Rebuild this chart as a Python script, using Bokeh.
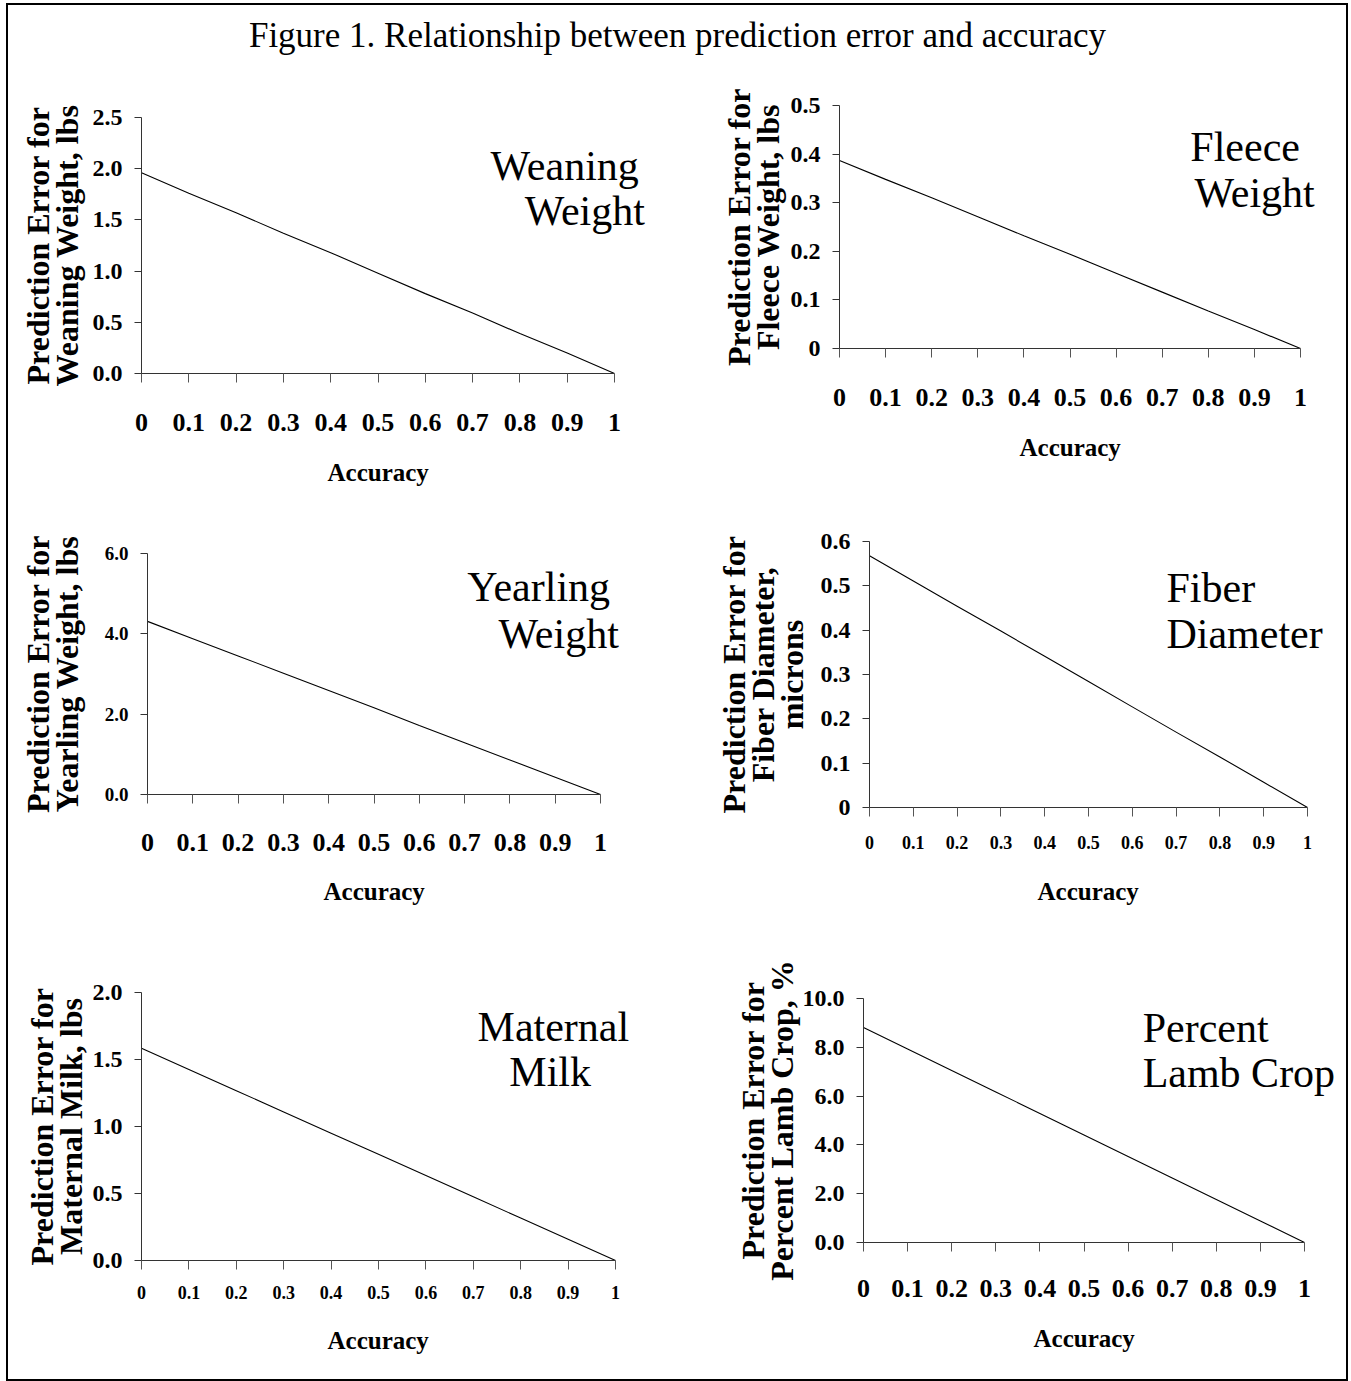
from bokeh.plotting import figure
from bokeh.models import Range1d, FixedTicker, CustomJSTickFormatter, Label, Title
from bokeh.layouts import column, row
from bokeh.embed import file_html
from bokeh.resources import INLINE

# ---------------- data ----------------
accuracy = [0.0, 0.1, 0.2, 0.3, 0.4, 0.5, 0.6, 0.7, 0.8, 0.9, 1.0]
weaning_weight = [1.96, 1.76, 1.57, 1.37, 1.18, 0.98, 0.78, 0.59, 0.39, 0.20, 0.0]
fleece_weight = [0.387, 0.348, 0.310, 0.271, 0.232, 0.194, 0.155, 0.116, 0.077, 0.039, 0.0]
yearling_weight = [4.31, 3.88, 3.45, 3.02, 2.59, 2.16, 1.72, 1.29, 0.86, 0.43, 0.0]
fiber_diameter = [0.568, 0.511, 0.454, 0.398, 0.341, 0.284, 0.227, 0.170, 0.114, 0.057, 0.0]
maternal_milk = [1.584, 1.426, 1.267, 1.109, 0.950, 0.792, 0.634, 0.475, 0.317, 0.158, 0.0]
lamb_crop = [8.81, 7.93, 7.05, 6.17, 5.29, 4.41, 3.52, 2.64, 1.76, 0.88, 0.0]

x_ticks = [0.0, 0.1, 0.2, 0.3, 0.4, 0.5, 0.6, 0.7, 0.8, 0.9, 1.0]
x_tick_labels = ["0", "0.1", "0.2", "0.3", "0.4", "0.5", "0.6", "0.7", "0.8", "0.9", "1"]

weaning_ticks = [0.0, 0.5, 1.0, 1.5, 2.0, 2.5]
weaning_labels = ["0.0", "0.5", "1.0", "1.5", "2.0", "2.5"]
fleece_ticks = [0.0, 0.1, 0.2, 0.3, 0.4, 0.5]
fleece_labels = ["0", "0.1", "0.2", "0.3", "0.4", "0.5"]
yearling_ticks = [0.0, 2.0, 4.0, 6.0]
yearling_labels = ["0.0", "2.0", "4.0", "6.0"]
fiber_ticks = [0.0, 0.1, 0.2, 0.3, 0.4, 0.5, 0.6]
fiber_labels = ["0", "0.1", "0.2", "0.3", "0.4", "0.5", "0.6"]
milk_ticks = [0.0, 0.5, 1.0, 1.5, 2.0]
milk_labels = ["0.0", "0.5", "1.0", "1.5", "2.0"]
lamb_ticks = [0.0, 2.0, 4.0, 6.0, 8.0, 10.0]
lamb_labels = ["0.0", "2.0", "4.0", "6.0", "8.0", "10.0"]

title_text = "Figure 1. Relationship between prediction error and accuracy"
x_title = "Accuracy"

FONT = "Liberation Serif"

FMT_CODE = """
for (let i = 0; i < tv.length; i++) {
  if (Math.abs(tv[i] - tick) < 1e-9) { return tl[i]; }
}
return '';
"""


def fmt(tick_values, tick_labels):
    return CustomJSTickFormatter(args=dict(tv=tick_values, tl=tick_labels), code=FMT_CODE)


def panel(w, h, bl, x1_px, bt, bb, ymax, ys, yticks, ylabels, ytitle, name_lines,
          xfs, yfs, x_std, acc_std, y_std, y_title_std):
    # the frame runs to the right edge of the figure; the x axis itself is
    # bounded to 0..1 so panel names next to x=1 are not clipped
    frame_px = w - bl - 2
    x_end = frame_px / x1_px
    p = figure(width=w, height=h, min_border_left=bl, min_border_right=2,
               min_border_top=bt, min_border_bottom=bb,
               x_range=Range1d(0, x_end), y_range=Range1d(0, ymax),
               output_backend="svg", toolbar_location=None, tools="")
    p.frame_align = False
    p.outline_line_color = None
    p.xgrid.visible = False
    p.ygrid.visible = False
    p.background_fill_color = "white"
    p.border_fill_color = "white"
    p.line(accuracy, ys, line_color="black", line_width=1.1)

    xa = p.xaxis[0]
    xa.bounds = (0, 1)
    xa.ticker = FixedTicker(ticks=x_ticks)
    xa.formatter = fmt(x_ticks, x_tick_labels)
    xa.major_tick_out = 9
    xa.major_tick_in = 0
    xa.minor_tick_out = 0
    xa.minor_tick_in = 0
    xa.axis_line_color = "#333333"
    xa.major_tick_line_color = "#555555"
    xa.major_label_text_font = FONT
    xa.major_label_text_font_style = "bold"
    xa.major_label_text_font_size = xfs
    xa.major_label_text_color = "black"
    xa.major_label_standoff = x_std

    # "Accuracy" centred under the 0..1 span of the axis
    acc_w = 101
    p.add_layout(Title(text=x_title, align="left", offset=int(round(x1_px / 2 - acc_w / 2)),
                       text_font=FONT, text_font_size="25px", text_font_style="bold",
                       text_color="black", standoff=acc_std, vertical_align="bottom"),
                 "below")

    ya = p.yaxis[0]
    ya.ticker = FixedTicker(ticks=yticks)
    ya.formatter = fmt(yticks, ylabels)
    ya.major_tick_out = 7
    ya.major_tick_in = 0
    ya.minor_tick_out = 0
    ya.minor_tick_in = 0
    ya.axis_line_color = "#333333"
    ya.major_tick_line_color = "#333333"
    ya.major_label_text_font = FONT
    ya.major_label_text_font_style = "bold"
    ya.major_label_text_font_size = yfs
    ya.major_label_text_color = "black"
    ya.major_label_standoff = y_std
    ya.axis_label = ytitle
    ya.axis_label_text_font = FONT
    ya.axis_label_text_font_style = "bold"
    ya.axis_label_text_font_size = "32px"
    ya.axis_label_text_line_height = 0.8
    ya.axis_label_text_color = "black"
    ya.axis_label_standoff = y_title_std

    for (txt, lx, ly) in name_lines:
        p.add_layout(Label(x=lx, y=ly, text=txt, text_font=FONT,
                           text_font_size="42px", text_color="black",
                           text_align="left", text_baseline="middle"))
    return p


# title figure
tp = figure(width=1338, height=69, x_range=Range1d(0, 1), y_range=Range1d(0, 1),
            min_border_left=0, min_border_right=0, min_border_top=0, min_border_bottom=0,
            output_backend="svg", toolbar_location=None, tools="")
tp.frame_align = False
tp.axis.visible = False
tp.grid.visible = False
tp.outline_line_color = None
tp.add_layout(Label(x=0.5, y=0.56, text=title_text, text_font=FONT,
                    text_font_size="35px", text_color="black",
                    text_align="center", text_baseline="middle"))

# left column: widths 676 ; right column: widths 662
p1 = panel(676, 441, 133, 473, 43, 142, 2.5, weaning_weight, weaning_ticks, weaning_labels,
           "Prediction Error for\nWeaning Weight, lbs",
           [("Weaning", 0.738, 2.03), ("Weight", 0.810, 1.59)],
           "26px", "24px", 31, 46, 12, 5)
p3 = panel(676, 421, 139, 453, 38, 142, 6.0, yearling_weight, yearling_ticks, yearling_labels,
           "Prediction Error for\nYearling Weight, lbs",
           [("Yearling", 0.706, 5.154), ("Weight", 0.775, 4.008)],
           "26px", "19px", 30, 44, 12, 17)
p5 = panel(676, 443, 133, 474, 56, 119, 2.0, maternal_milk, milk_ticks, milk_labels,
           "Prediction Error for\nMaternal Milk, lbs",
           [("Maternal", 0.709, 1.739), ("Milk", 0.776, 1.403)],
           "18px", "24px", 16, 46, 12, 1)

p2 = panel(662, 416, 155, 461, 31, 142, 0.5, fleece_weight, fleece_ticks, fleece_labels,
           "Prediction Error for\nFleece Weight, lbs",
           [("Fleece", 0.761, 0.4136), ("Weight", 0.770, 0.319)],
           "26px", "24px", 31, 46, 12, 2)
p4 = panel(662, 447, 185, 438, 51, 130, 0.6, fiber_diameter, fiber_ticks, fiber_labels,
           "Prediction Error for\nFiber Diameter,\nmicrons",
           [("Fiber", 0.678, 0.496), ("Diameter", 0.678, 0.392)],
           "18px", "24px", 19, 48, 12, 8)
p6 = panel(662, 442, 179, 441, 61, 137, 10.0, lamb_crop, lamb_ticks, lamb_labels,
           "Prediction Error for\nPercent Lamb Crop, %",
           [("Percent", 0.633, 8.81), ("Lamb Crop", 0.633, 6.93)],
           "26px", "24px", 28, 46, 12, 0)

root = column(tp, row(column(p1, p3, p5), column(p2, p4, p6)),
              styles={"border": "2px solid black", "margin-left": "6px", "margin-top": "3px"})

open("out.html", "w").write(file_html(root, INLINE))
